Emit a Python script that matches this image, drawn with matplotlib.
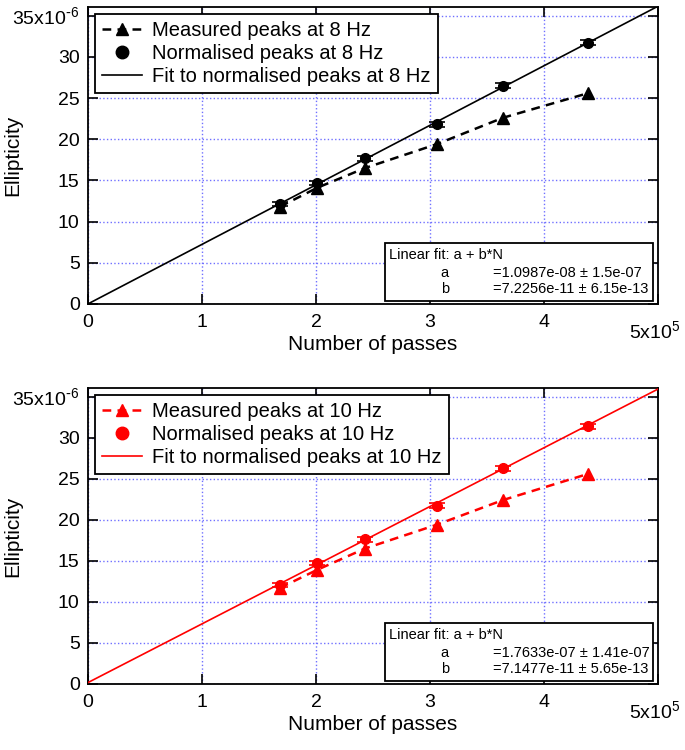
import matplotlib
matplotlib.use("Agg")
import matplotlib.pyplot as plt
from matplotlib.patches import Rectangle
from matplotlib.lines import Line2D
import numpy as np

plt.rcParams['font.family'] = ['Liberation Sans', 'DejaVu Sans']

# number of passes (same for both frequencies)
passes = [1.684e5, 2.01e5, 2.43e5, 3.06e5, 3.64e5, 4.39e5]

# 8 Hz
measured_8 = [11.8e-6, 14.1e-6, 16.5e-6, 19.4e-6, 22.6e-6, 25.6e-6]
normalised_8 = [12.1e-6, 14.7e-6, 17.7e-6, 21.8e-6, 26.5e-6, 31.7e-6]
normerr_8 = [0.25e-6, 0.25e-6, 0.3e-6, 0.3e-6, 0.3e-6, 0.3e-6]
fit_a_8, fit_da_8 = 1.0987e-08, 1.5e-07
fit_b_8, fit_db_8 = 7.2256e-11, 6.15e-13

# 10 Hz
measured_10 = [11.7e-6, 13.9e-6, 16.5e-6, 19.4e-6, 22.4e-6, 25.6e-6]
normalised_10 = [12.1e-6, 14.7e-6, 17.6e-6, 21.7e-6, 26.3e-6, 31.4e-6]
normerr_10 = [0.25e-6, 0.25e-6, 0.3e-6, 0.3e-6, 0.3e-6, 0.3e-6]
fit_a_10, fit_da_10 = 1.7633e-07, 1.41e-07
fit_b_10, fit_db_10 = 7.1477e-11, 5.65e-13

yticks = [0, 5e-6, 10e-6, 15e-6, 20e-6, 25e-6, 30e-6, 35e-6]
ytick_labels = ['0', '5', '10', '15', '20', '25', '30', '35x10$^{\\mathregular{\\text{-}6}}$']
xticks = [0, 1e5, 2e5, 3e5, 4e5, 5e5]
xtick_labels = ['0', '1', '2', '3', '4', '']

GRIDCOLOR = '#7070ff'


def draw_panel(ax, color, freq, measured, normalised, normerr, a, da, b, db):
    xfit = np.array([0, 5e5])
    h1, = ax.plot(passes, measured, '--^', color=color, lw=1.8, ms=8,
                  dashes=(3.5, 2.5), zorder=3)
    ax.errorbar(passes, normalised, yerr=normerr, fmt='o', color=color, ms=7,
                capsize=6, elinewidth=1.2, capthick=1.2, zorder=4)
    h2 = Line2D([], [], ls='none', marker='o', ms=9, color=color)
    h3, = ax.plot(xfit, a + b * xfit, '-', color=color, lw=1.2, zorder=3)

    ax.set_xlim(0, 5e5)
    ax.set_ylim(0, 36.05e-6)
    ax.set_xticks(xticks)
    ax.set_xticklabels(xtick_labels)
    ax.set_yticks(yticks)
    ax.set_yticklabels(ytick_labels)
    ax.tick_params(direction='in', length=7, width=1.2, top=True, right=True,
                   labelsize=14)
    ax.tick_params(axis='x', pad=7)
    ax.tick_params(axis='y', pad=6)
    for s in ax.spines.values():
        s.set_linewidth(1.3)
    ax.grid(True, color=GRIDCOLOR, linestyle=':', linewidth=1.0, zorder=0)
    ax.set_axisbelow(True)

    ax.set_ylabel('Ellipticity', fontsize=15)
    ax.yaxis.set_label_coords(-0.116, 0.5)
    ax.set_xlabel('Number of passes', fontsize=15, va='top')
    ax.xaxis.set_label_coords(0.5, -0.105)
    ax.text(1.04, -0.095, '5x10$^{\\mathregular{5}}$', transform=ax.transAxes,
            ha='right', va='center', fontsize=14)

    leg = ax.legend([h1, h2, h3],
                    ['Measured peaks at %s Hz' % freq,
                     'Normalised peaks at %s Hz' % freq,
                     'Fit to normalised peaks at %s Hz' % freq],
                    loc='upper left', fontsize=14.5, numpoints=1, fancybox=False,
                    framealpha=1, edgecolor='black', borderaxespad=0.35,
                    labelspacing=0.2, borderpad=0.35, handlelength=2.0,
                    handletextpad=0.5)
    leg.get_frame().set_linewidth(1.3)

    ax.add_patch(Rectangle((0.521, 0.01), 0.47, 0.195, transform=ax.transAxes,
                           facecolor='white', edgecolor='black', lw=1.3, zorder=5))
    ax.text(0.528, 0.165, 'Linear fit: a + b*N', transform=ax.transAxes,
            fontsize=10.5, va='center', zorder=6)
    ax.text(0.619, 0.105, 'a', transform=ax.transAxes, fontsize=10.5,
            va='center', zorder=6)
    ax.text(0.711, 0.105, '=%.4e \u00b1 %.3g' % (a, da), transform=ax.transAxes,
            fontsize=10.5, va='center', zorder=6)
    ax.text(0.619, 0.05, 'b', transform=ax.transAxes, fontsize=10.5,
            va='center', zorder=6)
    ax.text(0.711, 0.05, '=%.4e \u00b1 %.3g' % (b, db), transform=ax.transAxes,
            fontsize=10.5, va='center', zorder=6)


fig = plt.figure(figsize=(6.85, 7.5), dpi=100)
ax1 = fig.add_axes([0.1285, 0.5947, 0.832, 0.396])
ax2 = fig.add_axes([0.1285, 0.088, 0.832, 0.3947])

draw_panel(ax1, 'black', 8, measured_8, normalised_8, normerr_8,
           fit_a_8, fit_da_8, fit_b_8, fit_db_8)
draw_panel(ax2, '#ff0000', 10, measured_10, normalised_10, normerr_10,
           fit_a_10, fit_da_10, fit_b_10, fit_db_10)

fig.savefig('out.png', dpi=100)
